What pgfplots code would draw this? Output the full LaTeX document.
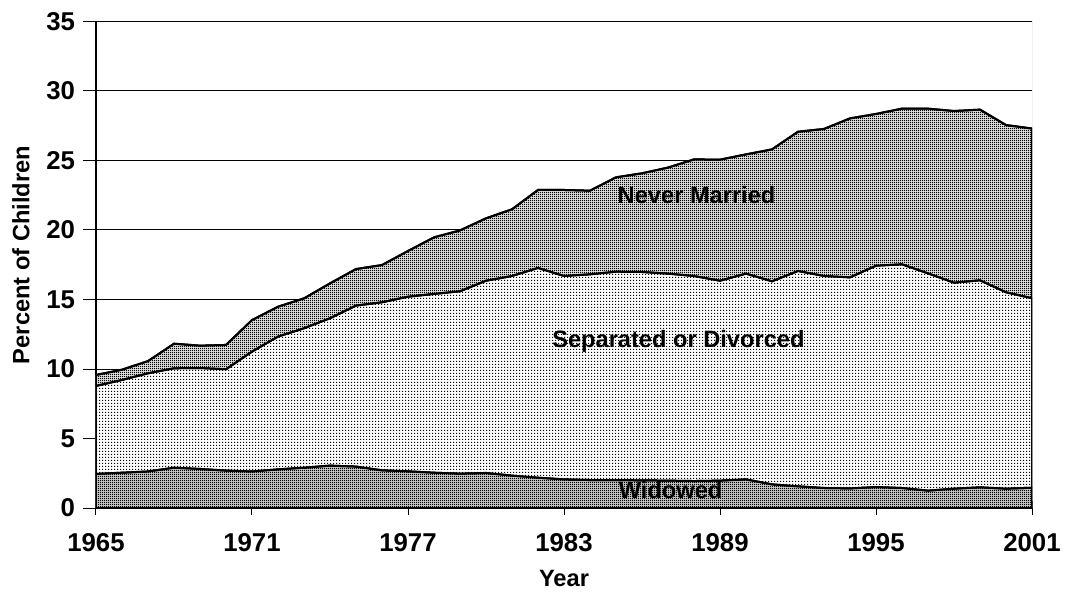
\documentclass[border=0pt]{standalone}
\usepackage{fontspec}
\setmainfont{Liberation Sans}
\usepackage{pgfplots}
\usepackage{pgfplotstable}
\pgfplotsset{compat=1.18}
\usetikzlibrary{patterns}

% dot screens like the original print
\pgfdeclarepatternformonly{sparsedots}{\pgfqpoint{0pt}{0pt}}{\pgfqpoint{2.25bp}{2.25bp}}{\pgfqpoint{2.25bp}{2.25bp}}{%
  \pgfpathrectangle{\pgfqpoint{0pt}{0pt}}{\pgfqpoint{0.75bp}{0.75bp}}\pgfusepath{fill}}
\pgfdeclarepatternformonly{densedots}{\pgfqpoint{0pt}{0pt}}{\pgfqpoint{1.5bp}{1.5bp}}{\pgfqpoint{1.5bp}{1.5bp}}{%
  \pgfpathrectangle{\pgfqpoint{0pt}{0pt}}{\pgfqpoint{0.75bp}{0.75bp}}\pgfusepath{fill}}

% cumulative levels: widowed, + separated/divorced, + never married
\pgfplotstableread{
year  wid   mid    top
1965  2.45  8.78   9.57
1966  2.54  9.21   9.95
1967  2.63  9.69   10.57
1968  2.90  10.05  11.82
1969  2.81  10.07  11.68
1970  2.69  9.98   11.73
1971  2.63  11.25  13.52
1972  2.78  12.33  14.48
1973  2.90  12.93  15.08
1974  3.05  13.65  16.16
1975  2.98  14.56  17.19
1976  2.71  14.80  17.48
1977  2.64  15.20  18.49
1978  2.54  15.40  19.47
1979  2.47  15.59  19.97
1980  2.52  16.35  20.84
1981  2.33  16.69  21.49
1982  2.18  17.27  22.88
1983  2.06  16.69  22.88
1984  2.01  16.81  22.83
1985  2.01  17.00  23.79
1986  1.99  16.98  24.08
1987  1.97  16.86  24.49
1988  1.94  16.69  25.08
1989  1.97  16.35  25.06
1990  2.06  16.86  25.44
1991  1.70  16.31  25.80
1992  1.56  17.05  27.07
1993  1.44  16.69  27.27
1994  1.41  16.59  28.03
1995  1.51  17.43  28.35
1996  1.44  17.53  28.73
1997  1.25  16.88  28.73
1998  1.39  16.21  28.56
1999  1.49  16.38  28.66
2000  1.39  15.52  27.55
2001  1.46  15.09  27.30
}\data

\begin{document}
\begin{tikzpicture}
\begin{axis}[
    scale only axis,
    width=702bp, height=364.875bp,
    xmin=1965, xmax=2001, ymin=0, ymax=35,
    xtick={1965,1971,1977,1983,1989,1995,2001},
    xticklabels={1965,1971,1977,1983,1989,1995,2001},
    ytick={0,5,10,15,20,25,30,35},
    yticklabels={0,5,10,15,20,25,30,35},
    tick label style={font=\bfseries\fontsize{19.4}{22}\selectfont},
    xticklabel style={yshift=-10.5bp},
    yticklabel style={xshift=-2.25bp},
    xtick align=center, ytick align=outside,
    major tick length=10bp,
    tick style={black, line width=0.75bp},
    ymajorgrids,
    grid style={black, line width=0.75bp},
    axis x line*=bottom, axis y line*=left,
    axis line style={black, line width=1.5bp},
    label style={font=\bfseries\fontsize{17.8}{20}\selectfont},
    xlabel={Year},
    ylabel={Percent of Children},
    x label style={at={(axis description cs:0.5,-0.144)}, anchor=center},
    y label style={at={(axis description cs:-0.0801,0.52)}, anchor=center},
]
\addplot[draw=black, line width=1.5bp, fill=gray!20, postaction={pattern=densedots}]
    table[x=year, y=top] {\data} \closedcycle;
\addplot[draw=black, line width=1.5bp, fill=white, postaction={pattern=sparsedots}]
    table[x=year, y=mid] {\data} \closedcycle;
\addplot[draw=black, line width=1.5bp, fill=gray!40, postaction={pattern=densedots}]
    table[x=year, y=wid] {\data} \closedcycle;

\draw[gray, line width=0.75bp] (rel axis cs:1,0) -- (rel axis cs:1,1);

\node[font=\bfseries\fontsize{17.8}{20}\selectfont] at (axis cs:1988.1,22.5) {Never Married};
\node[font=\bfseries\fontsize{17.8}{20}\selectfont] at (axis cs:1987.4,12.0) {Separated or Divorced};
\node[font=\bfseries\fontsize{17.8}{20}\selectfont] at (axis cs:1987.1,1.3) {Widowed};
\end{axis}
\pgfresetboundingbox
\useasboundingbox (-72bp,-63bp) rectangle (727.5bp,381bp);
\end{tikzpicture}
\end{document}
